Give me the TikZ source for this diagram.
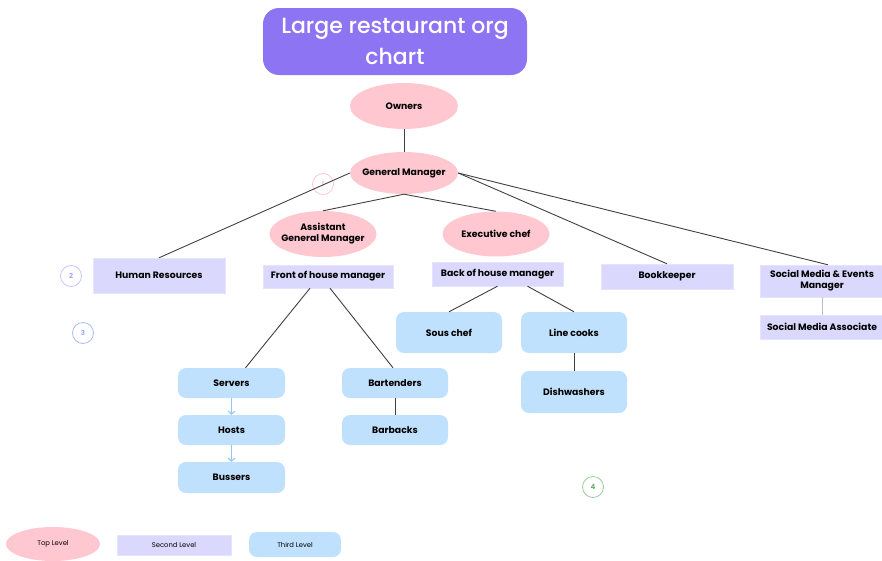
\documentclass[tikz,border=0pt]{standalone}
\usepackage{fontspec}
\setmainfont{Poppins}
\newfontfamily\titlefont{Poppins Medium}
\usetikzlibrary{shapes.geometric,arrows.meta}
\definecolor{toppink}{HTML}{FFC8D1}
\definecolor{secondlav}{HTML}{DAD8FC}
\definecolor{thirdblue}{HTML}{BFE1FD}
\definecolor{arrowblue}{HTML}{92C7F5}
\definecolor{titlepurple}{HTML}{8C74F2}
\tikzset{
  toplevel/.style={ellipse,fill=toppink,minimum width=108pt,minimum height=44pt,inner sep=-8pt,align=center,font=\fontsize{9.3}{11}\selectfont\bfseries},
  secondlevel/.style={rectangle,fill=secondlav,draw=secondlav!70!white,inner sep=0pt,align=center,font=\fontsize{9.3}{11}\selectfont\bfseries},
  thirdlevel/.style={rectangle,rounded corners=8pt,fill=thirdblue,minimum width=107pt,minimum height=30pt,inner sep=0pt,align=center,font=\fontsize{9.3}{11}\selectfont\bfseries},
  link/.style={draw=black!75,line width=0.9pt},
  softlink/.style={draw=black!25,line width=0.6pt},
  bluearrow/.style={draw=arrowblue,line width=1.1pt,-{Straight Barb[length=3pt,width=7pt]}},
  marker/.style={circle,minimum size=21pt,inner sep=0pt,line width=0.8pt,font=\fontsize{7}{8}\selectfont\bfseries},
  legendtext/.style={font=\fontsize{6.8}{8}\selectfont}
}
\begin{document}
\begin{tikzpicture}[x=1pt,y=-1pt]
\useasboundingbox (0,0) rectangle (882,560);

% Title
\node[rectangle,rounded corners=16pt,fill=titlepurple,minimum width=264pt,minimum height=67pt,inner sep=0pt,
  align=center,text=white,font=\titlefont\fontsize{22}{31}\selectfont] (title) at (395,41.5) {Large restaurant org\\chart};

% Top level
\node[toplevel,minimum height=46pt] (owners) at (404,106) {Owners};
\node[toplevel,minimum height=42pt] (gm) at (404,173) {General Manager};
\node[toplevel,minimum width=107pt,minimum height=46pt] (agm) at (323,234) {Assistant\\General Manager};
\node[toplevel,minimum width=107pt,minimum height=45pt] (chef) at (496,234) {Executive chef};

% Second level
\node[secondlevel,minimum width=132pt,minimum height=35pt] (hr) at (159,275.5) {Human Resources};
\node[secondlevel,minimum width=130pt,minimum height=23pt] (foh) at (328,276.5) {Front of house manager};
\node[secondlevel,minimum width=131pt,minimum height=24pt] (boh) at (497.5,274) {Back of house manager};
\node[secondlevel,minimum width=132pt,minimum height=25pt] (books) at (667,276.5) {Bookkeeper};
\node[secondlevel,minimum width=124pt,minimum height=32pt] (social) at (822,281) {Social Media \& Events\\Manager};
\node[secondlevel,minimum width=124pt,minimum height=24pt] (assoc) at (822,327) {Social Media Associate};

% Third level
\node[thirdlevel] (servers) at (231.5,383) {Servers};
\node[thirdlevel] (hosts) at (231.5,430) {Hosts};
\node[thirdlevel,minimum height=31pt] (bussers) at (231.5,477.5) {Bussers};
\node[thirdlevel,minimum width=106pt] (bartenders) at (395,383) {Bartenders};
\node[thirdlevel,minimum width=106pt] (barbacks) at (395,430) {Barbacks};
\node[thirdlevel,minimum width=106pt,minimum height=41pt] (sous) at (449,332.5) {Sous chef};
\node[thirdlevel,minimum width=106pt,minimum height=41pt] (linecooks) at (574,332.5) {Line cooks};
\node[thirdlevel,minimum width=106pt,minimum height=42pt] (dish) at (574,392) {Dishwashers};

% Numbered markers
\node[marker,draw=toppink,text=toppink] (m1) at (323,184) {1};
\node[marker,draw=secondlav!80!blue!70,text=secondlav!60!blue!70] (m2) at (71,276) {2};
\node[marker,draw=thirdblue!70!blue!70,text=thirdblue!60!blue!70] (m3) at (83,333) {3};
\node[marker,draw=green!50!black!40,text=green!50!black!60] (m4) at (593,487) {4};

% Connectors
\draw[link] (owners.south) -- (gm.north);
\draw[link] (gm.west) -- (hr.north);
\draw[link] (gm.south) -- (agm.north);
\draw[link] (gm.south) -- (chef.north);
\draw[link] (gm.east) -- (books.north);
\draw[link] (gm.east) -- ([xshift=6pt]social.north);
\draw[softlink] (social.south) -- (assoc.north);
\draw[link] ([xshift=-18pt]foh.south) -- ([xshift=14pt]servers.north);
\draw[link] ([xshift=2pt]foh.south) -- ([xshift=-2pt]bartenders.north);
\draw[link] (boh.south) -- (sous.north);
\draw[link] ([xshift=30pt]boh.south) -- (linecooks.north);
\draw[link] (bartenders.south) -- (barbacks.north);
\draw[link] (linecooks.south) -- (dish.north);
\draw[bluearrow] (servers.south) -- (hosts.north);
\draw[bluearrow] (hosts.south) -- (bussers.north);

% Legend
\node[toplevel,minimum width=94pt,minimum height=34pt,legendtext] (legtop) at (53,544) {Top Level};
\node[secondlevel,minimum width=114pt,minimum height=20pt,legendtext] (legsecond) at (174,545) {Second Level};
\node[thirdlevel,minimum width=92pt,minimum height=25pt,legendtext] (legthird) at (295,544.5) {Third Level};

\end{tikzpicture}
\end{document}
